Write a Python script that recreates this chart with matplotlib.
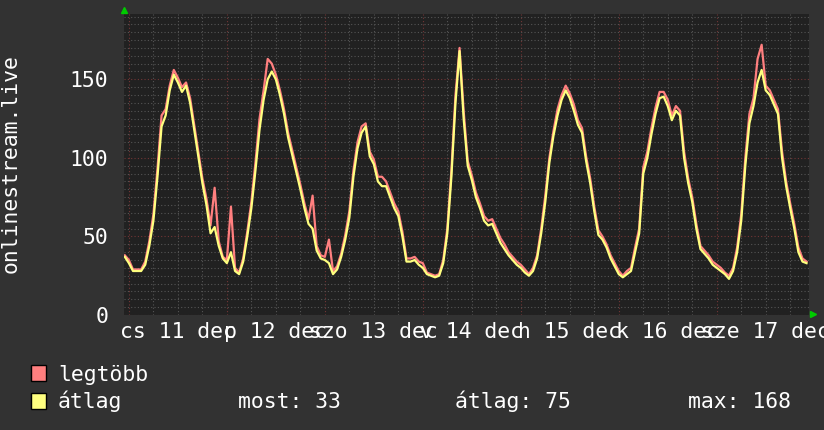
import numpy as np
import matplotlib
matplotlib.use("Agg")
from matplotlib import pyplot as plt
from matplotlib.patches import Rectangle

# hourly values, first value is the last hour of dec 10
avg_11 = [37, 33, 28, 28, 28, 32, 44, 60, 88, 120, 127, 143, 153, 148, 142, 146, 135, 118, 101, 84, 70, 52, 56, 44, 36]
max_11 = [38, 35, 29, 29, 29, 34, 47, 64, 93, 127, 131, 146, 156, 151, 145, 148, 138, 121, 104, 87, 74, 57, 81, 47, 37]
avg_12 = [33, 40, 28, 26, 34, 50, 68, 92, 118, 137, 150, 155, 150, 140, 128, 113, 102, 91, 80, 68, 58, 55, 41, 36]
max_12 = [35, 69, 30, 27, 36, 53, 72, 97, 125, 143, 163, 160, 153, 143, 131, 116, 105, 94, 83, 71, 61, 76, 44, 38]
avg_13 = [35, 33, 26, 29, 37, 48, 62, 88, 106, 116, 120, 101, 96, 85, 82, 82, 75, 68, 63, 50, 34, 34, 35, 32]
max_13 = [37, 48, 28, 31, 39, 51, 66, 92, 110, 120, 122, 104, 99, 88, 88, 85, 78, 71, 66, 53, 36, 36, 37, 34]
avg_14 = [30, 26, 25, 24, 25, 33, 52, 88, 135, 168, 125, 95, 86, 75, 68, 60, 57, 58, 52, 46, 42, 38, 35, 32]
max_14 = [33, 27, 26, 25, 26, 35, 55, 92, 140, 170, 130, 98, 89, 78, 71, 63, 60, 61, 55, 49, 45, 40, 37, 34]
avg_15 = [30, 27, 25, 28, 36, 52, 72, 97, 114, 127, 137, 143, 138, 130, 121, 116, 98, 84, 66, 51, 48, 43, 36, 31]
max_15 = [32, 29, 26, 30, 38, 55, 76, 100, 117, 131, 140, 146, 141, 134, 124, 119, 101, 87, 69, 54, 50, 45, 38, 33]
avg_16 = [26, 24, 26, 28, 40, 52, 90, 100, 115, 128, 138, 139, 133, 124, 130, 127, 100, 84, 72, 55, 42, 39, 36, 32]
max_16 = [28, 25, 28, 30, 43, 55, 94, 104, 119, 132, 142, 142, 137, 127, 133, 130, 104, 87, 75, 58, 44, 41, 38, 34]
avg_17 = [30, 28, 26, 23, 28, 40, 60, 95, 122, 133, 148, 156, 143, 140, 134, 128, 100, 82, 68, 55, 40, 34, 33]
max_17 = [32, 30, 27, 25, 30, 43, 64, 100, 128, 138, 163, 172, 146, 143, 137, 131, 104, 85, 71, 58, 43, 36, 34]

day_labels = ["cs 11 dec", "p 12 dec", "szo 13 dec", "v 14 dec", "h 15 dec", "k 16 dec", "sze 17 dec"]
y_ticks = [0, 50, 100, 150]

BG = "#323232"
CANVAS = "#212121"
RED = "#ff7f7f"
YELLOW = "#ffff7f"
FONT = 15.4

plt.rcParams["font.family"] = ["DejaVu Sans Mono"]

avg = np.array(avg_11 + avg_12 + avg_13 + avg_14 + avg_15 + avg_16 + avg_17)
mx = np.array(max_11 + max_12 + max_13 + max_14 + max_15 + max_16 + max_17)

# hours from dec 11 00:00
hours = np.arange(len(avg)) - 1

fig = plt.figure(figsize=(8.24, 4.30), dpi=100, facecolor=BG)
ax = fig.add_axes([124 / 824, 115 / 430, 685 / 824, 301 / 430])
ax.set_facecolor(CANVAS)

ax.plot(hours, mx, color=RED, lw=1.6, zorder=3)
ax.plot(hours, avg, color=YELLOW, lw=1.6, zorder=4)

ax.set_xlim(-1.2, 166.6)
ax.set_ylim(0, 191.6)

# grid: gray every 6h / 5 units, red every day / 50 units
ax.set_xticks(np.arange(0, 167, 24))
ax.set_xticks(np.arange(0, 167, 6), minor=True)
ax.set_yticks(y_ticks)
ax.set_yticks(np.arange(0, 192, 5), minor=True)
ax.grid(which="major", color="#733636", ls=(0, (1, 2)), lw=0.8)
ax.grid(which="minor", color="#555555", ls=(0, (1, 2)), lw=0.8)
ax.set_axisbelow(True)
ax.tick_params(which="both", length=0, colors="white", labelsize=FONT)
ax.tick_params(axis="y", pad=11.5)
ax.set_xticklabels([])

# day labels at noon
sec = ax.secondary_xaxis("bottom")
sec.set_xticks(np.arange(len(day_labels)) * 24 + 12, labels=day_labels)
sec.tick_params(length=0, colors="white", labelsize=FONT, pad=4.7)
sec.spines["bottom"].set_visible(False)

for s in ax.spines.values():
    s.set_visible(False)

# rrdtool style arrows
ax.plot([0], [1.012], marker="^", color="#00cc00", ms=4, transform=ax.transAxes, clip_on=False)
ax.plot([1.006], [0.003], marker=">", color="#00cc00", ms=4, transform=ax.transAxes, clip_on=False)

fig.text(11 / 824, 1 - 164 / 430, "onlinestream.live", rotation=90, color="white",
         fontsize=FONT, ha="center", va="center")

# legend
for (name, col, base) in [("legtöbb", RED, 381), ("átlag", YELLOW, 408.5)]:
    fig.patches.append(Rectangle((31 / 824, 1 - base / 430), 15 / 824, 16 / 430,
                                 transform=fig.transFigure, facecolor=col,
                                 edgecolor="black", lw=1))
    fig.text(58 / 824, 1 - base / 430, name, color="white", fontsize=FONT, va="baseline")

last = avg[-1]
mean = avg.mean()
peak = avg.max()
fig.text(238 / 824, 1 - 408.5 / 430, "most: %d" % round(last), color="white", fontsize=FONT, va="baseline")
fig.text(455 / 824, 1 - 408.5 / 430, "átlag: %d" % round(mean), color="white", fontsize=FONT, va="baseline")
fig.text(688 / 824, 1 - 408.5 / 430, "max: %d" % round(peak), color="white", fontsize=FONT, va="baseline")

fig.savefig("out.png", dpi=100, facecolor=BG)
